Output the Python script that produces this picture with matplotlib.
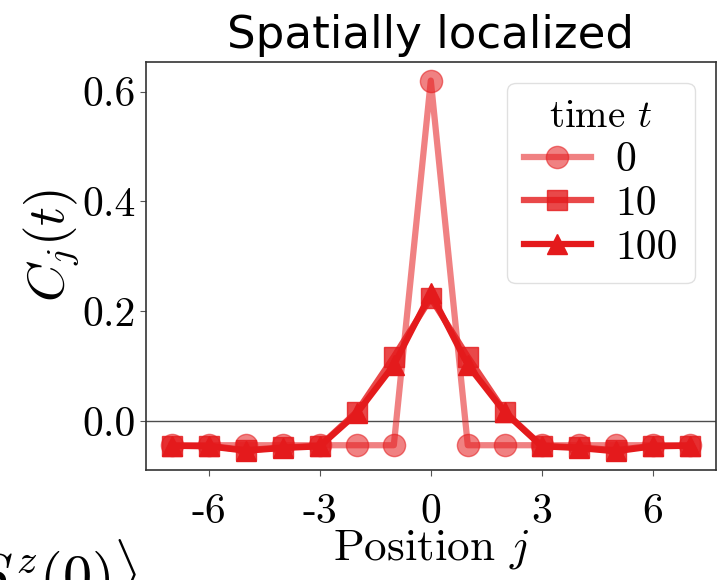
import numpy as np
import matplotlib
matplotlib.use("Agg")
import matplotlib.pyplot as plt

# positions and correlation values
positions = list(range(-7, 8))
c_t0 = [-0.044, -0.044, -0.044, -0.044, -0.044, -0.044, -0.044, 0.620,
        -0.044, -0.044, -0.044, -0.044, -0.044, -0.044, -0.044]
c_t10 = [-0.045, -0.045, -0.053, -0.048, -0.045, 0.017, 0.117, 0.224,
         0.117, 0.017, -0.045, -0.048, -0.053, -0.045, -0.045]
c_t100 = [-0.045, -0.046, -0.054, -0.049, -0.046, 0.014, 0.102, 0.233,
          0.102, 0.016, -0.046, -0.049, -0.055, -0.046, -0.045]
times = ["0", "10", "100"]

xticks = [-6, -3, 0, 3, 6]
xticklabels = ["-6", "-3", "0", "3", "6"]
yticks = [0.0, 0.2, 0.4, 0.6]
yticklabels = ["0.0", "0.2", "0.4", "0.6"]

plt.rcParams["font.family"] = "serif"
plt.rcParams["font.serif"] = ["cmr10"]
plt.rcParams["mathtext.fontset"] = "cm"
plt.rcParams["axes.unicode_minus"] = False
plt.rcParams["axes.formatter.use_mathtext"] = True

red = "#e41a1c"

fig = plt.figure(figsize=(7.21, 5.80), dpi=100)
ax = fig.add_axes([0.2025, 0.19, 0.79, 0.703])

ax.axhline(0, color="k", lw=1.0, alpha=0.7, zorder=1)
ax.plot(positions, c_t0, "-o", color=red, alpha=0.55, lw=4.5, ms=16, label=times[0])
ax.plot(positions, c_t10, "-s", color=red, alpha=0.8, lw=4.5, ms=14, label=times[1])
ax.plot(positions, c_t100, "-^", color=red, alpha=1.0, lw=4.5, ms=14, label=times[2])

ax.set_xticks(xticks)
ax.set_xticklabels(xticklabels)
ax.set_yticks(yticks)
ax.set_yticklabels(yticklabels)
ax.tick_params(labelsize=30, length=4, color="#555555")
ax.tick_params(axis="x", pad=13)
for s in ax.spines.values():
    s.set_color("#333333")
    s.set_linewidth(1.2)

ax.set_xlabel("Position $j$", fontsize=32.5, labelpad=-2)
ax.set_ylabel("$C_j(t)$", fontsize=38)
ax.yaxis.set_label_coords(-0.112, 0.551)
ax.set_title("Spatially localized", fontsize=32.5, family="DejaVu Sans", pad=10)

leg = ax.legend(title="time $t$", fontsize=30, title_fontsize=28, loc="upper right",
                handlelength=1.6, handletextpad=0.6, labelspacing=0.15,
                borderpad=0.4, framealpha=0.9, fancybox=True)
leg.get_frame().set_edgecolor("#dddddd")

fig.text(138 / 721, -0.028, r"$\langle S^z_j(t)\, S^z(0)\rangle$", fontsize=42,
         ha="right", va="baseline")

fig.savefig("out.png", dpi=100)
